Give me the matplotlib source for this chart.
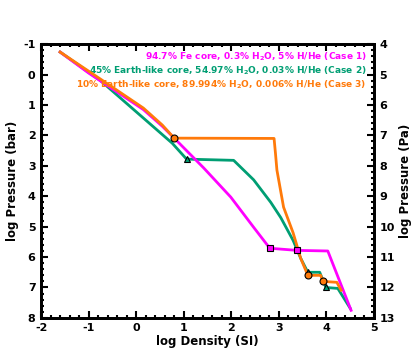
import matplotlib
matplotlib.use("Agg")
import matplotlib.pyplot as plt
from matplotlib.ticker import MultipleLocator

# log density (SI) vs log pressure (bar)
case1_x = [-1.6, -1.0, -0.3, 0.15, 0.55, 0.8, 1.42, 1.99, 2.47, 2.81, 3.38, 4.03, 4.52]
case1_p = [-0.74, -0.05, 0.68, 1.15, 1.7, 2.09, 3.07, 4.03, 5.02, 5.71, 5.78, 5.8, 7.75]
case2_x = [-1.6, -0.75, 0.76, 1.06, 2.05, 2.47, 2.83, 3.04, 3.3, 3.46, 3.61, 3.86, 3.99, 4.24, 4.5]
case2_p = [-0.74, 0.2, 2.26, 2.78, 2.82, 3.46, 4.2, 4.7, 5.45, 6.04, 6.5, 6.5, 7.0, 7.03, 7.68]
case3_x = [-1.6, -0.75, 0.15, 0.55, 0.8, 2.9, 2.93, 2.96, 3.1, 3.3, 3.46, 3.61, 3.88, 3.93, 4.22, 4.31]
case3_p = [-0.74, 0.15, 1.1, 1.66, 2.09, 2.1, 2.6, 3.14, 4.36, 5.2, 6.04, 6.6, 6.6, 6.8, 6.83, 7.09]

# layer boundaries
case1_mx = [2.81, 3.38]
case1_mp = [5.71, 5.78]
case2_mx = [1.06, 3.61, 3.99]
case2_mp = [2.78, 6.5, 7.0]
case3_mx = [0.8, 3.61, 3.93]
case3_mp = [2.09, 6.6, 6.8]

labels = ["94.7% Fe core, 0.3% H$_2$O, 5% H/He (Case 1)",
          "45% Earth-like core, 54.97% H$_2$O, 0.03% H/He (Case 2)",
          "10% Earth-like core, 89.994% H$_2$O, 0.006% H/He (Case 3)"]

magenta = "#ff00ff"
green = "#009e73"
orange = "#ff7a0a"

plt.rcParams["font.weight"] = "bold"
plt.rcParams["axes.labelweight"] = "bold"
plt.rcParams["axes.unicode_minus"] = False
plt.rcParams["mathtext.default"] = "bf"

fig = plt.figure(figsize=(4.15, 3.56), dpi=100)
ax = fig.add_axes([0.099, 0.107, 0.802, 0.769])

ax.plot(case1_x, case1_p, color=magenta, lw=2, zorder=3)
ax.plot(case2_x, case2_p, color=green, lw=2, zorder=2)
ax.plot(case3_x, case3_p, color=orange, lw=2, zorder=4)
ax.plot(case1_mx, case1_mp, "s", ms=5, mfc=magenta, mec="black", mew=0.8, zorder=5)
ax.plot(case2_mx, case2_mp, "^", ms=5, mfc=green, mec="black", mew=0.8, zorder=5)
ax.plot(case3_mx, case3_mp, "o", ms=5, mfc=orange, mec="black", mew=0.8, zorder=5)

ax.set_xlim(-2, 5)
ax.set_ylim(8, -1)
ax.set_xlabel("log Density (SI)", fontsize=8.5, labelpad=1)
ax.set_ylabel("log Pressure (bar)", fontsize=8.5, labelpad=3)
ax.xaxis.set_major_locator(MultipleLocator(1))
ax.xaxis.set_minor_locator(MultipleLocator(0.2))
ax.yaxis.set_major_locator(MultipleLocator(1))
ax.yaxis.set_minor_locator(MultipleLocator(0.2))
ax.tick_params(which="both", direction="in", top=True, width=1.5, labelsize=8, pad=4)
ax.tick_params(which="major", length=5)
ax.tick_params(which="minor", length=2.5)
ax.tick_params(axis="y", which="both", right=False)

ax2 = ax.twinx()
ax2.set_ylim(13, 4)
ax2.yaxis.set_major_locator(MultipleLocator(1))
ax2.yaxis.set_minor_locator(MultipleLocator(0.2))
ax2.tick_params(which="both", direction="in", width=1.5, labelsize=8, pad=4)
ax2.tick_params(which="major", length=5)
ax2.tick_params(which="minor", length=2.5)
ax2.set_ylabel("log Pressure (Pa)", fontsize=8.5, labelpad=3)

for a in (ax, ax2):
    for s in a.spines.values():
        s.set_linewidth(2)

for i, (txt, c) in enumerate(zip(labels, [magenta, green, orange])):
    ax.text(0.978, 0.955 - i * 0.052, txt, color=c, fontsize=6.5, ha="right",
            va="center", transform=ax.transAxes)

fig.savefig("out.png", dpi=100)
